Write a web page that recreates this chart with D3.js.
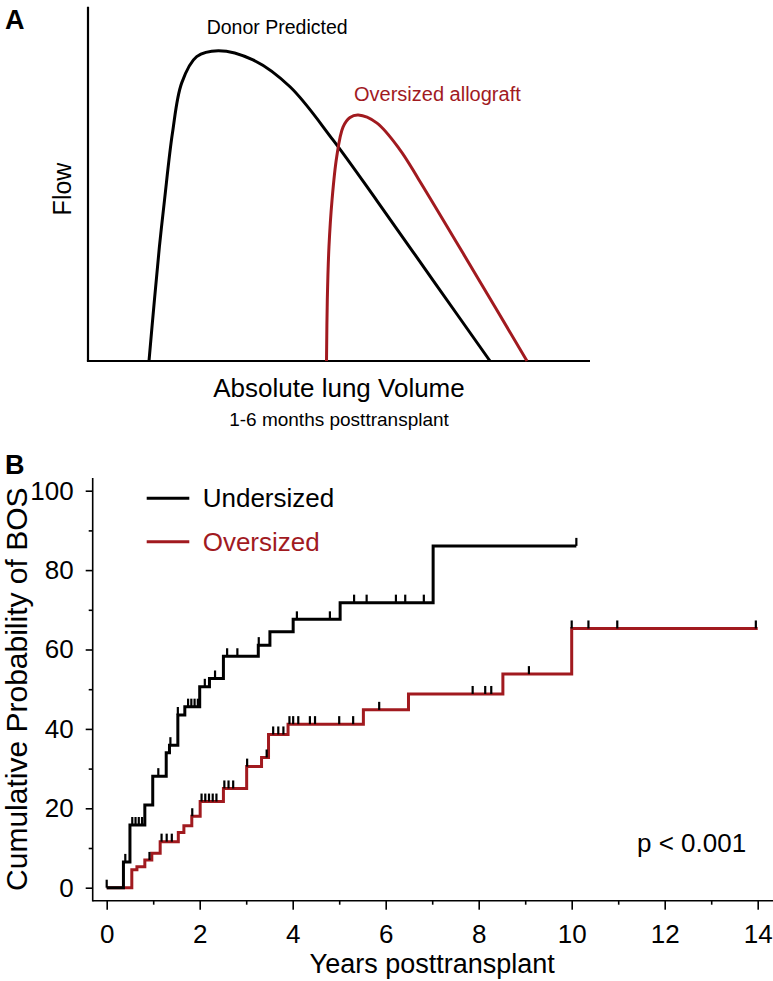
<!DOCTYPE html>
<html><head><meta charset="utf-8">
<script src="https://cdn.jsdelivr.net/npm/d3@7"></script>
<style>
html,body{margin:0;padding:0;background:#fff;}
svg{display:block;font-family:"Liberation Sans",Arial,Helvetica,sans-serif;}
</style></head>
<body>
<svg id="chart" width="773" height="981"></svg>
<script>
// ---------- Panel A (schematic flow-volume curves, arbitrary units) ----------
const donorVolume = [12.15,13.23,14.22,15.24,16.83,18.67,21.65,25.96,32.87,40.24,48.80,57.57,69.12,80.08];
const donorFlow   = [0,17.2,32.2,45.4,64.4,78.5,85.9,87.6,85.0,77.4,62.4,45.2,22.0,0];
const overVolume  = [47.51,47.67,48.0,48.61,49.54,50.80,52.19,53.84,57.51,62.15,65.94,76.69,87.45];
const overFlow    = [0,17.2,32.2,45.4,57.6,66.0,68.7,69.4,67.2,59.6,51.1,25.7,0];
const axisEndVolume = 100;

// ---------- Panel B (Kaplan-Meier cumulative probability of BOS, %) ----------
const underTimes  = [0,0.36,0.50,0.82,0.99,1.28,1.35,1.53,1.68,2.00,2.21,2.51,3.26,3.51,4.01,5.02,7.02];
const underValues = [0,6.5,15.8,20.8,28.1,34.0,35.9,43.5,45.6,50.6,52.7,58.3,61.1,64.5,67.6,71.8,86.1];
const underEnd    = 10.1;
const underCensor = [0,0.40,0.55,0.62,0.69,0.76,1.11,1.37,1.53,1.75,1.82,1.89,1.96,2.11,2.33,2.59,2.81,3.27,4.09,4.80,5.32,5.59,6.22,6.42,6.82,10.1];

const overTimes   = [0,0.54,0.65,0.82,0.97,1.15,1.54,1.66,1.83,2.01,2.51,3.01,3.33,3.48,3.90,5.52,6.49,8.52,10.0];
const overValues  = [0,4.5,5.3,7.0,8.7,11.6,13.9,15.6,18.0,21.7,25.0,30.5,32.8,38.6,41.2,44.8,48.8,53.8,65.3];
const overEnd     = 14.0;
const overCensor  = [0.92,1.18,1.29,1.40,1.84,2.04,2.12,2.20,2.28,2.36,2.53,2.62,2.72,3.02,3.44,3.58,3.69,3.80,3.93,4.01,4.12,4.37,4.48,5.00,5.30,5.86,7.87,8.14,8.27,9.08,10.0,10.36,10.98,13.96];

const xTicksMajor = [0,2,4,6,8,10,12,14];
const xTicksMinor = [1,3,5,7,9,11,13];
const yTicksMajor = [0,20,40,60,80,100];
const yTicksMinor = [10,30,50,70,90];

const legendLabels = ["Undersized","Oversized"];
const pText = "p < 0.001";

const BLACK = "#000", RED = "#a11a1f";
const svg = d3.select("#chart");

// ===== Panel A =====
const xA = d3.scaleLinear().domain([0,100]).range([88,590]);
const yA = d3.scaleLinear().domain([0,100]).range([361,6.7]);
const gA = svg.append("g");
gA.append("line").attr("x1",xA(0)).attr("x2",xA(0)).attr("y1",yA(100)).attr("y2",yA(0))
  .attr("stroke","#000").attr("stroke-width",2.2);
gA.append("line").attr("x1",xA(0)-1.1).attr("x2",xA(axisEndVolume)).attr("y1",yA(0)).attr("y2",yA(0))
  .attr("stroke","#000").attr("stroke-width",2.2);
const lineA = d3.line().x(d=>xA(d[0])).y(d=>yA(d[1])).curve(d3.curveCatmullRom.alpha(0.5));
gA.append("path").attr("d",lineA(donorVolume.map((v,i)=>[v,donorFlow[i]])))
  .attr("fill","none").attr("stroke",BLACK).attr("stroke-width",3);
gA.append("path").attr("d",lineA(overVolume.map((v,i)=>[v,overFlow[i]])))
  .attr("fill","none").attr("stroke",RED).attr("stroke-width",3);
gA.append("text").attr("x",5).attr("y",29).attr("font-size",27).attr("font-weight","bold").text("A");
gA.append("text").attr("x",206.7).attr("y",34).attr("font-size",19.5).text("Donor Predicted");
gA.append("text").attr("x",354).attr("y",101).attr("font-size",20).attr("fill",RED).text("Oversized allograft");
gA.append("text").attr("transform","translate(71,189) rotate(-90)").attr("text-anchor","middle")
  .attr("font-size",25).text("Flow");
gA.append("text").attr("x",339).attr("y",397).attr("text-anchor","middle").attr("font-size",26).text("Absolute lung Volume");
gA.append("text").attr("x",339).attr("y",426).attr("text-anchor","middle").attr("font-size",19).text("1-6 months posttransplant");

// ===== Panel B =====
svg.append("text").attr("x",5).attr("y",474).attr("font-size",27).attr("font-weight","bold").text("B");
const xB = d3.scaleLinear().domain([0,14]).range([106.7,757.7]);
const yB = d3.scaleLinear().domain([0,100]).range([887.7,490.7]);
const axisX = 92.7, axisY = 900.7;
const gB = svg.append("g");

// x axis
const gx = gB.append("g").attr("transform",`translate(0,${axisY})`);
gx.call(d3.axisBottom(xB).tickValues(xTicksMajor).tickSize(9).tickPadding(15).tickFormat(d3.format("d")));
gx.append("g").call(d3.axisBottom(xB).tickValues(xTicksMinor).tickSize(4).tickFormat(""));
gx.selectAll(".domain").remove();
gx.append("line").attr("x1",axisX).attr("x2",773).attr("y1",0).attr("y2",0).attr("stroke","#000").attr("stroke-width",1.6);
// y axis
const gy = gB.append("g").attr("transform",`translate(${axisX},0)`);
gy.call(d3.axisLeft(yB).tickValues(yTicksMajor).tickSize(7).tickPadding(12).tickFormat(d3.format("d")));
gy.append("g").call(d3.axisLeft(yB).tickValues(yTicksMinor).tickSize(4).tickFormat(""));
gy.selectAll(".domain").remove();
gy.append("line").attr("x1",0).attr("x2",0).attr("y1",478).attr("y2",axisY+0.8).attr("stroke","#000").attr("stroke-width",1.6);
gB.selectAll(".tick line").attr("stroke","#000").attr("stroke-width",1.6);
gB.selectAll(".tick text").attr("font-size",26).attr("font-family","Liberation Sans, Arial, sans-serif").attr("fill","#000");

// titles
gB.append("text").attr("x",xB(7)).attr("y",973).attr("text-anchor","middle").attr("font-size",27).text("Years posttransplant");
gB.append("text").attr("transform",`translate(27,${yB(50)}) rotate(-90)`).attr("text-anchor","middle")
  .attr("font-size",30).text("Cumulative Probability of BOS");

// KM step curves
function kmValue(times, values, t){
  let v = values[0];
  for (let i=0;i<times.length;i++){ if (times[i] <= t + 1e-9) v = values[i]; }
  return v;
}
const stepLine = d3.line().x(d=>xB(d[0])).y(d=>yB(d[1])).curve(d3.curveStepAfter);
function drawKM(times, values, end, censor, color){
  const pts = times.map((t,i)=>[t,values[i]]);
  pts.push([end, values[values.length-1]]);
  gB.append("path").attr("d",stepLine(pts)).attr("fill","none").attr("stroke",color)
    .attr("stroke-width",3).attr("stroke-linejoin","miter");
  gB.append("g").selectAll("line").data(censor).join("line")
    .attr("x1",d=>xB(d)).attr("x2",d=>xB(d))
    .attr("y1",d=>yB(kmValue(times,values,d))).attr("y2",d=>yB(kmValue(times,values,d))-8)
    .attr("stroke","#000").attr("stroke-width",2.2);
}
drawKM(overTimes, overValues, overEnd, overCensor, RED);
drawKM(underTimes, underValues, underEnd, underCensor, BLACK);

// legend
const legColors = [BLACK, RED];
const legY = [498.3, 541.7];
legendLabels.forEach((lab,i)=>{
  gB.append("line").attr("x1",146.7).attr("x2",189.3).attr("y1",legY[i]).attr("y2",legY[i])
    .attr("stroke",legColors[i]).attr("stroke-width",3);
  gB.append("text").attr("x",202.7).attr("y",legY[i]+9).attr("font-size",26).attr("fill",legColors[i]).text(lab);
});
// p value
gB.append("text").attr("x",637).attr("y",852).attr("font-size",26).text(pText);
</script>
</body></html>
